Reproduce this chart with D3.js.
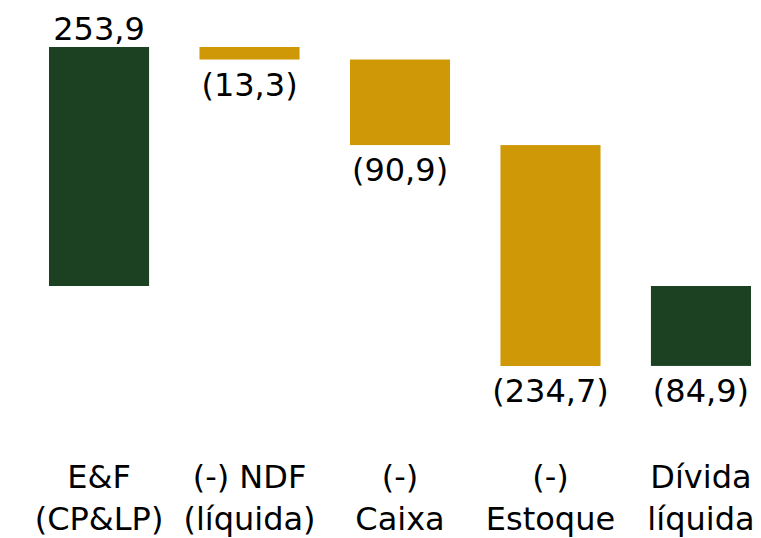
<!DOCTYPE html>
<html>
<head>
<meta charset="utf-8">
<script src="https://cdn.jsdelivr.net/npm/d3@7"></script>
<style>
  html, body { margin: 0; padding: 0; background: #fff; }
  svg text { font-family: "Century Gothic", "DejaVu Sans", sans-serif; fill: #000; }
</style>
</head>
<body>
<svg width="761" height="538"></svg>
<script>
// waterfall data
var categories = [['E&F', '(CP&LP)'], ['(-) NDF', '(líquida)'], ['(-)', 'Caixa'], ['(-)', 'Estoque'], ['Dívida', 'líquida']];
var values = [253.9, -13.3, -90.9, -234.7, -84.9];
var kinds = ['total', 'delta', 'delta', 'delta', 'total'];

var GREEN = '#1b4022', GOLD = '#cf9807';

var svg = d3.select('svg');

var x = d3.scaleBand()
    .domain(d3.range(values.length))
    .range([49, 751])
    .paddingInner(0.335)
    .paddingOuter(0);

var y = d3.scaleLinear()
    .domain([0, 253.9])
    .range([286, 47]);

// compute start / end of each bar
var run = 0;
var bars = values.map(function (v, i) {
    var start, end;
    if (kinds[i] === 'total') {
        start = 0; end = v; run = v;
    } else {
        start = run; end = run + v; run = end;
    }
    return {i: i, v: v, start: start, end: end, kind: kinds[i]};
});

function fmt(v) {
    var s = d3.format('.1f')(Math.abs(v)).replace('.', ',');
    return v < 0 ? '(' + s + ')' : s;
}

svg.selectAll('rect.bar')
    .data(bars)
    .enter()
    .append('rect')
    .attr('class', 'bar')
    .attr('x', function (d) { return x(d.i); })
    .attr('width', x.bandwidth())
    .attr('y', function (d) { return y(Math.max(d.start, d.end)); })
    .attr('height', function (d) { return Math.abs(y(d.start) - y(d.end)); })
    .style('fill', function (d) { return d.kind === 'total' ? GREEN : GOLD; });

// value labels: above positive bars, below negative ones
svg.selectAll('text.val')
    .data(bars)
    .enter()
    .append('text')
    .attr('class', 'val')
    .attr('x', function (d) { return x(d.i) + x.bandwidth() / 2; })
    .attr('y', function (d) {
        return d.v >= 0 ? y(Math.max(d.start, d.end)) - 7 : y(Math.min(d.start, d.end)) + 36;
    })
    .style('text-anchor', 'middle')
    .style('font-size', '32px')
    .text(function (d) { return fmt(d.v); });

// category labels (two lines)
var cats = svg.selectAll('text.cat')
    .data(categories)
    .enter()
    .append('text')
    .attr('class', 'cat')
    .attr('x', function (d, i) { return x(i) + x.bandwidth() / 2; })
    .attr('y', 488)
    .style('text-anchor', 'middle')
    .style('font-size', '32px');

cats.selectAll('tspan')
    .data(function (d) { return d; })
    .enter()
    .append('tspan')
    .attr('x', function () { return this.parentNode.getAttribute('x'); })
    .attr('dy', function (d, j) { return j === 0 ? 0 : 42; })
    .text(function (d) { return d; });
</script>
</body>
</html>
